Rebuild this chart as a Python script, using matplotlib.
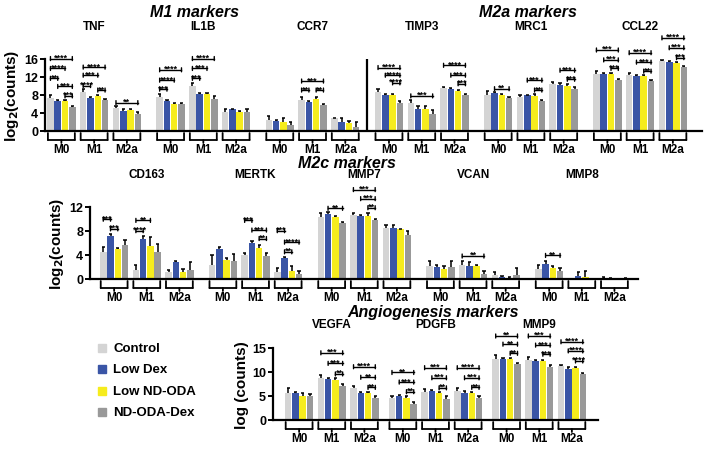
import numpy as np
import matplotlib
matplotlib.use("Agg")
import matplotlib.pyplot as plt
import matplotlib.transforms as mtransforms

plt.rcParams['font.family'] = ['Liberation Sans', 'DejaVu Sans']
plt.rcParams['font.weight'] = 'bold'

treatments = ["Control", "Low Dex", "Low ND-ODA", "ND-ODA-Dex"]
colors = ["#d4d4d4", "#3a55a6", "#f6ec1d", "#999999"]
groups = ["M0", "M1", "M2a"]

# ---- top row: M1 and M2a markers (log2 counts) ----
top_genes = ["TNF", "IL1B", "CCR7", "TIMP3", "MRC1", "CCL22"]
top_means = {
    "TNF":   [[7.3, 6.7, 6.7, 5.3], [8.7, 7.4, 7.8, 6.9], [5.2, 4.4, 4.6, 3.7]],
    "IL1B":  [[7.6, 6.7, 6.1, 6.1], [10.1, 8.3, 8.2, 7.2], [4.3, 4.8, 4.2, 4.3]],
    "CCR7":  [[2.4, 2.2, 1.9, 1.3], [6.9, 6.5, 7.2, 5.7], [2.8, 1.9, 1.7, 1.0]],
    "TIMP3": [[8.7, 8.0, 8.1, 6.3], [6.3, 4.8, 4.8, 3.7], [9.6, 9.3, 9.0, 7.9]],
    "MRC1":  [[8.1, 8.4, 8.1, 7.4], [7.6, 7.9, 7.8, 6.7], [10.5, 10.3, 10.1, 9.3]],
    "CCL22": [[12.6, 12.6, 12.7, 11.3], [12.4, 12.2, 12.2, 11.1], [15.6, 15.3, 15.2, 14.2]],
}
top_errs = {
    "TNF":   [[0.7, 0.2, 0.2, 0.15], [0.7, 0.15, 0.25, 0.15], [0.3, 0.6, 0.2, 0.6]],
    "IL1B":  [[0.7, 0.15, 0.2, 0.15], [0.6, 0.15, 0.3, 0.6], [0.5, 0.15, 0.15, 0.5]],
    "CCR7":  [[0.9, 0.3, 1.1, 0.7], [0.7, 0.15, 0.3, 0.2], [0.15, 0.9, 0.6, 1.1]],
    "TIMP3": [[0.7, 0.3, 0.2, 0.3], [0.6, 0.7, 0.7, 0.9], [0.2, 0.3, 0.2, 0.4]],
    "MRC1":  [[0.7, 0.2, 0.2, 0.2], [0.5, 0.2, 0.4, 0.3], [0.3, 0.3, 0.3, 0.4]],
    "CCL22": [[0.7, 0.2, 0.2, 0.3], [0.6, 0.2, 0.3, 0.3], [0.2, 0.2, 0.15, 0.3]],
}
# (group, bar a, bar b, height, stars)
top_sig = {
    "TNF": [(0, 0, 3, 16.1, "****"), (0, 0, 2, 13.9, "****"), (0, 0, 1, 11.7, "**"),
            (0, 1, 3, 9.9, "***"), (0, 2, 3, 7.8, "***"),
            (1, 0, 3, 14.2, "****"), (1, 0, 2, 12.4, "***"), (1, 0, 1, 10.1, "****"),
            (1, 2, 3, 9.1, "**"), (2, 0, 3, 6.3, "**")],
    "IL1B": [(0, 0, 3, 13.6, "****"), (0, 0, 2, 11.3, "****"), (0, 0, 1, 9.3, "***"),
             (1, 0, 3, 16.1, "****"), (1, 0, 2, 13.9, "***"), (1, 0, 1, 11.7, "***")],
    "CCR7": [(1, 0, 3, 11.1, "***"), (1, 0, 1, 9.1, "**"), (1, 2, 3, 9.1, "**")],
    "TIMP3": [(0, 0, 3, 14.1, "****"), (0, 1, 3, 12.4, "****"), (0, 2, 3, 10.7, "****"),
              (1, 0, 3, 7.8, "***"),
              (2, 0, 3, 14.6, "****"), (2, 1, 3, 12.4, "***"), (2, 2, 3, 10.5, "***")],
    "MRC1": [(0, 1, 3, 9.4, "**"), (1, 1, 3, 11.3, "***"), (1, 2, 3, 9.1, "**"),
             (2, 1, 3, 13.5, "***"), (2, 2, 3, 11.5, "***")],
    "CCL22": [(0, 0, 3, 18.0, "***"), (0, 1, 3, 15.8, "***"), (0, 2, 3, 13.9, "***"),
              (1, 0, 3, 17.4, "****"), (1, 1, 3, 15.3, "***"), (1, 2, 3, 13.3, "**"),
              (2, 0, 3, 20.7, "****"), (2, 1, 3, 18.5, "***"), (2, 2, 3, 16.3, "***")],
}

# ---- middle row: M2c markers ----
mid_genes = ["CD163", "MERTK", "MMP7", "VCAN", "MMP8"]
mid_means = {
    "CD163": [[4.4, 7.1, 5.0, 5.7], [1.5, 6.7, 5.5, 4.4], [1.1, 2.8, 1.1, 1.5]],
    "MERTK": [[2.4, 4.9, 3.2, 3.0], [3.9, 5.9, 5.1, 3.8], [1.1, 3.4, 1.4, 0.8]],
    "MMP7":  [[10.2, 10.7, 10.3, 9.3], [10.6, 10.5, 10.5, 9.7], [8.5, 8.5, 8.2, 7.3]],
    "VCAN":  [[2.2, 2.0, 1.7, 2.0], [2.4, 2.1, 2.2, 0.9], [0.6, 0.3, 0.15, 0.6]],
    "MMP8":  [[1.7, 2.5, 1.8, 1.3], [0.05, 0.5, 0.3, 0.0], [0.05, 0.05, 0.0, 0.1]],
}
mid_errs = {
    "CD163": [[0.9, 0.4, 0.15, 0.7], [0.9, 0.35, 1.4, 1.4], [0.4, 0.2, 0.6, 1.3]],
    "MERTK": [[1.5, 0.4, 0.3, 1.1], [0.4, 0.35, 0.5, 0.5], [0.8, 0.3, 0.8, 0.5]],
    "MMP7":  [[0.8, 0.4, 0.15, 0.15], [0.4, 0.15, 0.4, 0.2], [0.4, 0.4, 0.15, 0.6]],
    "VCAN":  [[0.7, 0.4, 0.4, 1.0], [0.6, 0.7, 0.15, 0.4], [0.6, 0.2, 0.2, 1.2]],
    "MMP8":  [[0.6, 0.5, 0.4, 0.5], [0.0, 0.7, 1.0, 0.0], [0.35, 0.05, 0.0, 0.1]],
}
mid_sig = {
    "CD163": [(0, 0, 1, 9.9, "***"), (0, 1, 2, 8.3, "***"),
              (1, 0, 2, 9.7, "**"), (1, 0, 1, 8.0, "****")],
    "MERTK": [(1, 0, 1, 9.7, "***"), (1, 1, 3, 8.1, "***"), (1, 2, 3, 6.7, "**"),
              (2, 0, 1, 8.0, "***"), (2, 1, 3, 6.1, "****"), (2, 1, 2, 4.5, "**")],
    "MMP7": [(0, 1, 3, 11.7, "**"),
             (1, 0, 3, 14.8, "***"), (1, 1, 3, 13.3, "***"), (1, 2, 3, 11.8, "**")],
    "VCAN": [(1, 0, 3, 3.8, "**")],
    "MMP8": [(0, 1, 3, 3.9, "**")],
}

# ---- bottom row: angiogenesis markers ----
bot_genes = ["VEGFA", "PDGFB", "MMP9"]
bot_means = {
    "VEGFA": [[5.6, 5.6, 5.1, 4.9], [8.8, 8.6, 8.4, 7.0], [6.7, 5.6, 5.6, 4.5]],
    "PDGFB": [[4.6, 4.9, 4.6, 3.3], [5.9, 6.0, 5.6, 4.4], [6.1, 5.7, 5.6, 4.6]],
    "MMP9":  [[12.8, 12.7, 12.7, 11.6], [12.5, 12.3, 12.3, 11.1], [11.3, 10.7, 10.9, 9.5]],
}
bot_errs = {
    "VEGFA": [[1.0, 0.2, 0.6, 0.5], [0.5, 0.2, 0.3, 0.6], [0.3, 0.2, 0.3, 0.6]],
    "PDGFB": [[0.5, 0.3, 0.3, 0.5], [0.5, 0.2, 0.3, 0.7], [0.5, 0.3, 0.3, 0.3]],
    "MMP9":  [[0.7, 0.15, 0.2, 0.3], [0.6, 0.2, 0.2, 0.3], [0.2, 0.3, 0.2, 0.3]],
}
bot_sig = {
    "VEGFA": [(1, 0, 3, 14.0, "***"), (1, 1, 3, 11.8, "***"), (1, 2, 3, 9.6, "**"),
              (2, 0, 3, 11.1, "****"), (2, 1, 3, 8.9, "**"), (2, 2, 3, 6.8, "**")],
    "PDGFB": [(0, 0, 3, 9.9, "**"), (0, 1, 3, 7.9, "***"), (0, 2, 3, 5.9, "**"),
              (1, 0, 3, 10.9, "***"), (1, 1, 3, 8.8, "***"), (1, 2, 3, 6.7, "**"),
              (2, 0, 3, 10.9, "****"), (2, 1, 3, 8.8, "***"), (2, 2, 3, 6.8, "**")],
    "MMP9": [(0, 0, 3, 17.5, "**"), (0, 1, 3, 15.8, "**"), (0, 2, 3, 13.9, "**"),
             (1, 0, 3, 17.5, "***"), (1, 1, 3, 15.6, "***"), (1, 2, 3, 13.7, "***"),
             (2, 0, 3, 16.3, "****"), (2, 1, 3, 14.4, "****"), (2, 2, 3, 12.3, "****")],
}

W, H = 704, 452
fig = plt.figure(figsize=(W / 100, H / 100), dpi=100)

BAR_W = 0.9
GROUP_STEP = 4.5


def make_axes(left, right, top, bottom):
    # pixel box -> figure fraction
    return fig.add_axes([left / W, 1 - bottom / H, (right - left) / W, (bottom - top) / H])


def shifted(tr, dx=0, dy=0):
    return mtransforms.offset_copy(tr, fig=fig, x=dx, y=dy, units='dots')


def seg(ax, p0, p1, tr0, tr1, lw):
    ax.annotate('', xy=p1, xytext=p0, xycoords=tr1, textcoords=tr0,
                arrowprops=dict(arrowstyle='-', lw=lw, color='black', shrinkA=0, shrinkB=0),
                annotation_clip=False)


def draw_row(ax, genes, means, errs, sig, gene_step, ylim, yticks, ylabel, xlim, title_dy):
    bt = ax.get_xaxis_transform()
    for g, gene in enumerate(genes):
        m = means[gene]
        e = errs[gene]
        for k in range(3):
            xs = g * gene_step + k * GROUP_STEP + np.arange(4)
            top = np.array(m[k]) + np.array(e[k])
            ax.bar(xs, m[k], width=BAR_W, color=colors, edgecolor='none', zorder=2)
            ax.vlines(xs, m[k], top, color='black', lw=1.1, zorder=3)
            ax.hlines(top, xs - 0.22, xs + 0.22, color='black', lw=1.1, zorder=3)
            # bracket under the group
            x0, x1 = xs[0] - 0.35, xs[-1] + 0.35
            xc = (xs[0] + xs[-1]) / 2
            px = [x0, x0, x1, x1]
            py = [-2, -9, -9, -2]
            for a in range(3):
                seg(ax, (px[a], 0), (px[a + 1], 0), shifted(bt, 0, py[a]),
                    shifted(bt, 0, py[a + 1]), 1.3)
            seg(ax, (xc, 0), (xc, 0), shifted(bt, 0, -9), shifted(bt, 0, -12), 1.3)
            ax.text(xc, 0, groups[k], transform=shifted(bt, 0, -12), ha='center',
                    va='top', fontsize=8.5, fontweight='bold')
        # significance brackets
        for (k, a, b, y, stars) in sig.get(gene, []):
            xa = g * gene_step + k * GROUP_STEP + a
            xb = g * gene_step + k * GROUP_STEP + b
            ax.plot([xa, xb], [y, y], color='black', lw=1.0, clip_on=False, zorder=4)
            for xx in (xa, xb):
                seg(ax, (xx, y), (xx, y), shifted(ax.transData, 0, -2),
                    shifted(ax.transData, 0, 2), 1.0)
            ax.text((xa + xb) / 2, y, stars, transform=shifted(ax.transData, 0, -1),
                    ha='center', va='baseline', fontsize=6.5, fontweight='bold',
                    clip_on=False)
        # gene title
        gc = g * gene_step + GROUP_STEP + 1.5
        ax.text(gc, 1, gene, transform=shifted(ax.get_xaxis_transform(), 0, title_dy),
                ha='center', va='center', fontsize=8.5, fontweight='bold')

    ax.set_xlim(*xlim)
    ax.set_ylim(*ylim)
    ax.set_yticks(yticks)
    ax.set_xticks([])
    ax.set_ylabel(ylabel, fontsize=11, fontweight='bold', labelpad=2)
    for s in ('top', 'right'):
        ax.spines[s].set_visible(False)
    for s in ('left', 'bottom'):
        ax.spines[s].set_linewidth(1.6)
    ax.tick_params(axis='y', direction='out', length=3.5, width=1.4, labelsize=9, pad=1.5)
    for lab in ax.get_yticklabels():
        lab.set_fontweight('bold')


ax_top = make_axes(45, 702, 60, 132)
draw_row(ax_top, top_genes, top_means, top_errs, top_sig, 15.0, (0, 16),
         [0, 4, 8, 12, 16], r"log$_\mathbf{2}$(counts)", (-0.75, 89.5), 33)
ax_top.axvline(43.5, ymin=0, ymax=1, color='black', lw=1.6)

ax_mid = make_axes(90, 638, 207.5, 280)
draw_row(ax_mid, mid_genes, mid_means, mid_errs, mid_sig, 15.0, (0, 12),
         [0, 4, 8, 12], r"log$_\mathbf{2}$(counts)", (-1.83, 73.75), 32)

ax_bot = make_axes(273, 598, 349, 421)
draw_row(ax_bot, bot_genes, bot_means, bot_errs, bot_sig, 14.3, (0, 15),
         [0, 5, 10, 15], "log (counts)", (-2.1, 42.7), 24)

# section titles
fig.text(195 / W, 1 - 12.5 / H, "M1 markers", ha='center', va='center',
         fontsize=11.5, fontweight='bold', style='italic')
fig.text(528 / W, 1 - 12.5 / H, "M2a markers", ha='center', va='center',
         fontsize=11.5, fontweight='bold', style='italic')
fig.text(347 / W, 1 - 163 / H, "M2c markers", ha='center', va='center',
         fontsize=11.5, fontweight='bold', style='italic')
fig.text(433 / W, 1 - 313 / H, "Angiogenesis markers", ha='center', va='center',
         fontsize=11.5, fontweight='bold', style='italic')

# legend
for i, (name, c) in enumerate(zip(treatments, colors)):
    yc = 349 + i * 21.3
    fig.patches.append(plt.Rectangle((98 / W, 1 - (yc + 4) / H), 8 / W, 8 / H,
                                     transform=fig.transFigure, color=c, figure=fig))
    fig.text(113 / W, 1 - yc / H, name, ha='left', va='center', fontsize=9.5,
             fontweight='bold')

fig.savefig("out.png", dpi=100)
